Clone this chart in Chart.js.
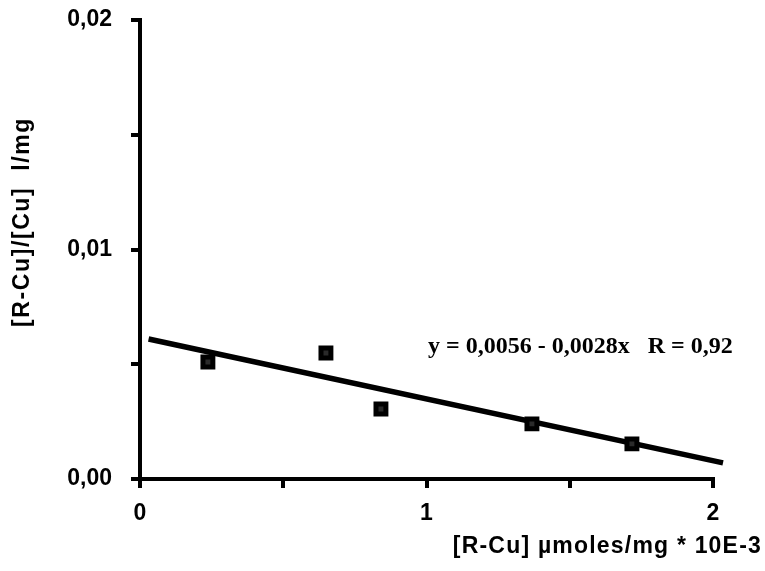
<!DOCTYPE html>
<html>
<head>
<meta charset="utf-8">
<title>R-Cu binding</title>
<script src="https://cdn.jsdelivr.net/npm/chart.js@4"></script>
<style>
  body { margin: 0; background: #fff; }
</style>
</head>
<body>
<canvas id="chart" width="765" height="571"></canvas>
<script>
// measured points
var rcuValues = [0.237, 0.649, 0.841, 1.368, 1.717];
var ratioValues = [0.0051, 0.00549, 0.00305, 0.0024, 0.00153];

// regression line as drawn (ends)
var fitX = [0.03, 2.035];
var fitY = [0.0061, 0.0007];

var xTickLabels = ['0', '1', '2'];
var yTickLabels = ['0,00', '0,01', '0,02'];

var xTitle = '[R-Cu] \u00b5moles/mg * 10E-3';
var yTitle = '[R-Cu]/[Cu]  l/mg';
var fitText = 'y = 0,0056 - 0,0028x   R = 0,92';

var sans = '"Liberation Sans", Arial, Helvetica, sans-serif';

function pts(xs, ys) {
    return xs.map(function (x, i) { return { x: x, y: ys[i] }; });
}

// titles and equation drawn on top
var textPlugin = {
    id: 'texts',
    afterDraw: function (chart) {
        var ctx = chart.ctx;
        ctx.save();
        ctx.fillStyle = '#000';

        ctx.font = 'bold 23px ' + sans;
        ctx.letterSpacing = '1.2px';
        ctx.textAlign = 'right';
        ctx.textBaseline = 'alphabetic';
        ctx.fillText(xTitle, 762, 553);

        ctx.save();
        ctx.translate(23, 222);
        ctx.rotate(-Math.PI / 2);
        ctx.textAlign = 'center';
        ctx.textBaseline = 'middle';
        ctx.letterSpacing = '1.6px';
        ctx.fillText(yTitle, 0, 0);
        ctx.restore();

        ctx.letterSpacing = '0px';
        ctx.font = 'bold 24px "Liberation Serif", "Times New Roman", serif';
        ctx.textAlign = 'left';
        ctx.fillText(fitText, 428, 353);
        ctx.restore();
    }
};

var ctx = document.getElementById('chart').getContext('2d');
var myChart = new Chart(ctx, {
    type: 'scatter',
    data: {
        datasets: [{
            label: 'fit',
            type: 'line',
            data: pts(fitX, fitY),
            borderColor: '#000',
            borderWidth: 5.5,
            pointRadius: 0,
            fill: false,
            clip: false,
            order: 2
        }, {
            label: 'data',
            data: pts(rcuValues, ratioValues),
            pointStyle: 'rect',
            pointRadius: 7,
            backgroundColor: '#2a2a2a',
            borderColor: '#000',
            borderWidth: 5,
            order: 1
        }]
    },
    options: {
        responsive: false,
        animation: false,
        devicePixelRatio: 1,
        layout: { padding: { top: 20, right: 52, left: 0, bottom: 0 } },
        plugins: {
            legend: { display: false },
            tooltip: { enabled: false }
        },
        scales: {
            x: {
                type: 'linear',
                min: 0,
                max: 2,
                afterFit: function (scale) {
                    scale.height = 92;
                    scale.paddingLeft = 0;
                    scale.paddingRight = 0;
                },
                border: { display: true, color: '#000', width: 4 },
                grid: {
                    drawOnChartArea: false,
                    drawTicks: true,
                    tickLength: 9,
                    color: '#000',
                    lineWidth: 4
                },
                ticks: {
                    stepSize: 0.5,
                    padding: 12,
                    color: '#000',
                    font: { family: sans, size: 23, weight: 'bold' },
                    callback: function (v) {
                        var i = Math.round(v);
                        return Math.abs(v - i) < 1e-6 ? xTickLabels[i] : '';
                    }
                }
            },
            y: {
                type: 'linear',
                min: 0,
                max: 0.02,
                afterFit: function (scale) {
                    scale.width = 140;
                    scale.paddingTop = 0;
                    scale.paddingBottom = 0;
                },
                border: { display: true, color: '#000', width: 4 },
                grid: {
                    drawOnChartArea: false,
                    drawTicks: true,
                    tickLength: 9,
                    color: '#000',
                    lineWidth: 4
                },
                ticks: {
                    stepSize: 0.005,
                    padding: 19,
                    color: '#000',
                    font: { family: sans, size: 23, weight: 'bold' },
                    callback: function (v) {
                        var i = Math.round(v * 100);
                        return Math.abs(v * 100 - i) < 1e-6 ? yTickLabels[i] : '';
                    }
                }
            }
        }
    },
    plugins: [textPlugin]
});
</script>
</body>
</html>
